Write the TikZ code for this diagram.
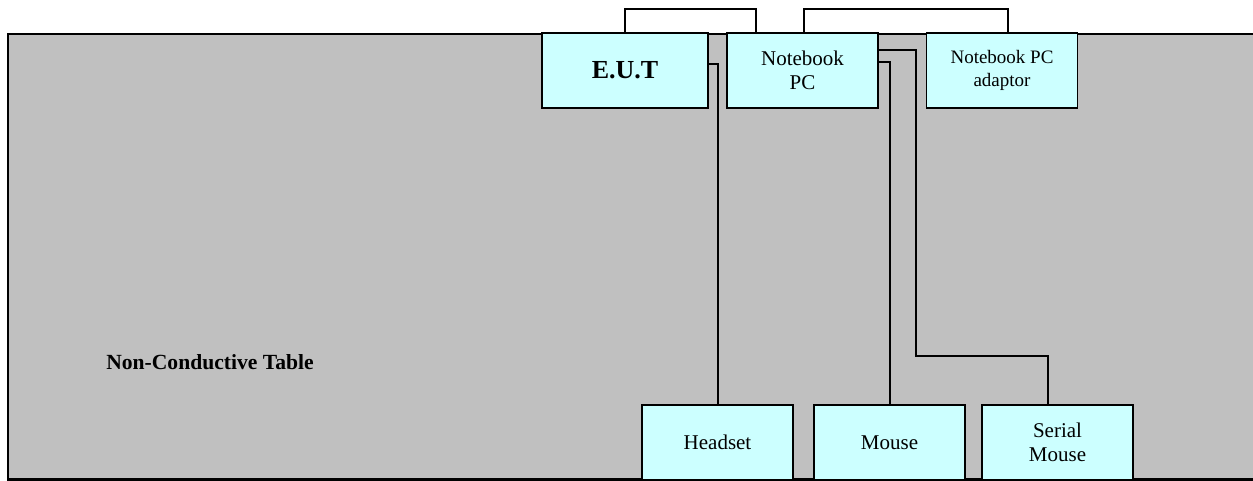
\documentclass[tikz,border=0pt]{standalone}
\usepackage{fontspec}
\setmainfont{Liberation Serif}
\usetikzlibrary{calc}
\definecolor{tablegray}{HTML}{C0C0C0}
\definecolor{devcyan}{HTML}{CCFFFF}
\begin{document}
\begin{tikzpicture}[x=0.5pt, y=-0.5pt,
  device/.style={draw=black, line width=0.7pt, fill=devcyan, minimum width=75.5pt,
    minimum height=37.5pt, inner sep=0pt, align=center,
    font=\fontsize{10.5}{12}\selectfont},
  cable/.style={draw=black, line width=1pt}]

  % Page size, the table runs off the right edge
  \useasboundingbox (0,0) rectangle (1253,481);
  \clip (0,0) rectangle (1253,481);

  % Table
  \draw[fill=tablegray, line width=1.2pt] (8,34) rectangle (1270,479.5);
  \node[font=\fontsize{10.8}{13}\bfseries\selectfont] (tablelabel) at (210,362) {Non-Conductive Table};

  % Devices on the table
  \node[device, minimum width=83pt, font=\fontsize{13}{15}\bfseries\selectfont] (eut) at (625,70.5) {E.U.T};
  \node[device] (pc) at (802.5,70.5) {Notebook\\PC};
  \node[device, font=\fontsize{9.5}{11.5}\selectfont] (adaptor) at (1002,70.5) {Notebook PC\\adaptor};
  \node[device] (headset) at (717.5,442.5) {Headset};
  \node[device] (mouse) at (889.5,442.5) {Mouse};
  \node[device] (serial) at (1057.5,442.5) {Serial\\Mouse};

  % Cables over the top
  \draw[cable] (eut.north) -- ++(0,-23) -| ($(pc.north west)+(30,0)$);
  \draw[cable] ($(pc.north)+(1.5,0)$) -- ++(0,-23) -| ($(adaptor.north)+(6,0)$);

  % Cables across the table
  \draw[cable] ($(eut.north east)+(0,32)$) -| (headset.north);
  \draw[cable] ($(pc.north east)+(0,30)$) -| (mouse.north);
  \coordinate (serialbend) at (916,356);
  \draw[cable] ($(pc.north east)+(0,18)$) -| (serialbend) -| ($(serial.north)+(-10,0)$);

\end{tikzpicture}
\end{document}
